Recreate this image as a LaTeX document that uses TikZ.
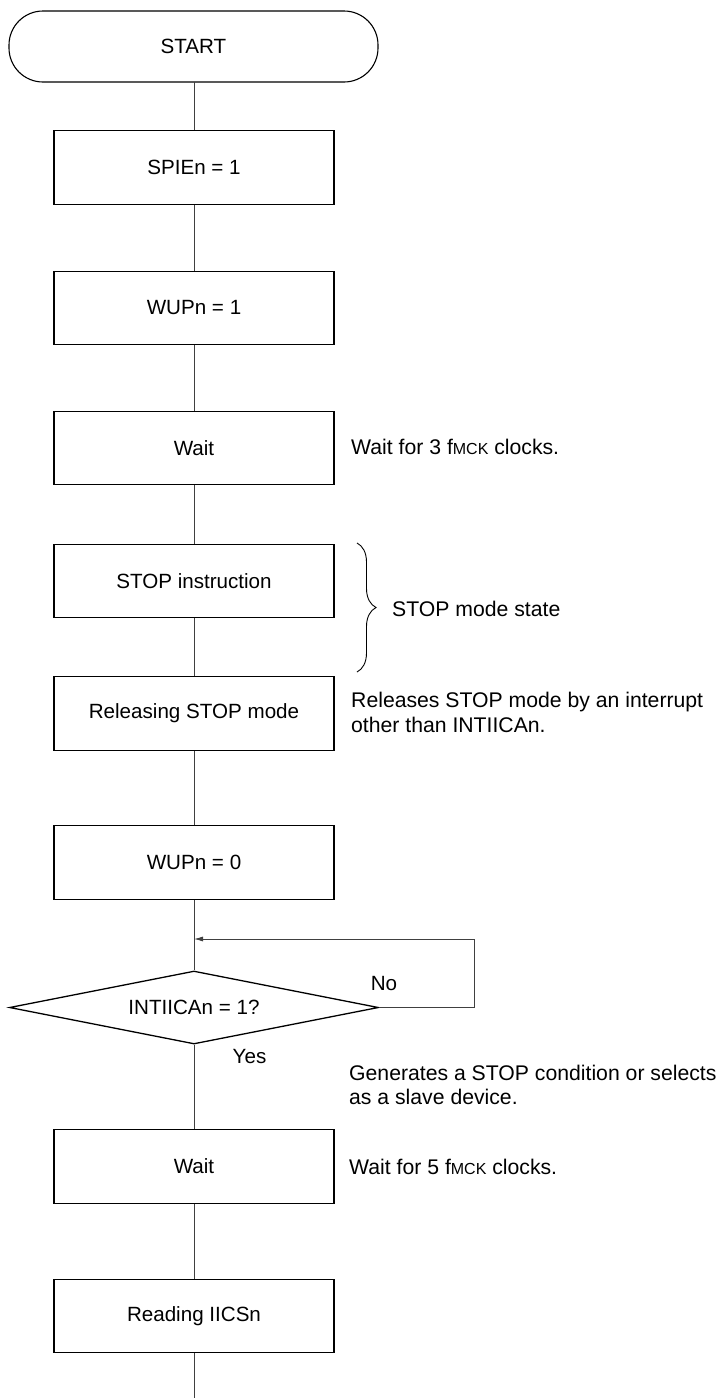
\documentclass[tikz,border=0pt]{standalone}
\usepackage{fontspec}
\setmainfont{Liberation Sans}
\usetikzlibrary{shapes.geometric,arrows.meta,decorations.pathreplacing}
\newcommand\myfmck{f{\fontsize{16}{16}\selectfont MCK}}
\begin{document}
\begin{tikzpicture}[x=1pt,y=-1pt,
  every node/.style={font=\fontsize{20.6}{24.5}\selectfont},
  box/.style={draw, line width=1.4pt, minimum width=280pt, minimum height=73.5pt, inner sep=0pt},
  term/.style={draw, line width=1.1pt, rounded corners=34pt, minimum width=369pt, minimum height=71pt, inner sep=0pt},
  dec/.style={draw, diamond, line width=1.3pt, aspect=5, minimum width=369pt, minimum height=73pt, inner sep=0pt},
  conn/.style={draw=black!75, line width=0.8pt},
  note/.style={anchor=west, inner sep=0pt, align=left, font=\fontsize{21.2}{24.5}\selectfont}
]
\useasboundingbox (0,0) rectangle (723,1398);

\node[term] (start) at (193.5,46.5) {START};
\node[box] (b1) at (194,167.5) {SPIEn = 1};
\node[box] (b2) at (194,308) {WUPn = 1};
\node[box] (b3) at (194,448) {Wait};
\node[box] (b4) at (194,581) {STOP instruction};
\node[box] (b5) at (194,713.5) {Releasing STOP mode};
\node[box] (b6) at (194,862.5) {WUPn = 0};
\node[dec] (d1) at (194,1007.5) {INTIICAn = 1?};
\node[box] (b7) at (194,1166.5) {Wait};
\node[box] (b8) at (194,1316) {Reading IICSn};
\coordinate (endpt) at (194,1398);
\coordinate (join) at (194,939);
\coordinate (fb) at (474,939);

\node[note] (n1) at (351,447) {Wait for 3 \myfmck{} clocks.};
\node[note] (n2) at (392,609) {STOP mode state};
\node[note] (n3) at (351,712.5) {Releases STOP mode by an interrupt\\other than INTIICAn.};
\node[note] (n4) at (349,1085) {Generates a STOP condition or selects\\as a slave device.};
\node[note] (n5) at (349,1167) {Wait for 5 \myfmck{} clocks.};
\node (no) at (384,984) {No};
\node (yes) at (249.5,1056) {Yes};

\draw[conn] (194,82) -- (b1);
\draw[conn] (b1) -- (b2);
\draw[conn] (b2) -- (b3);
\draw[conn] (b3) -- (b4);
\draw[conn] (b4) -- (b5);
\draw[conn] (b5) -- (b6);
\draw[conn] (b6) -- (d1.north);
\draw[conn] (d1.south) -- (b7);
\draw[conn] (b7) -- (b8);
\draw[conn] (b8) -- (endpt);
\draw[conn, -{Latex[length=9pt,width=5pt]}] (d1.east) -| (fb) -- (join);

\draw[decorate, decoration={brace, amplitude=19pt}, line width=0.9pt] (357,543) -- (357,672);
\end{tikzpicture}
\end{document}
